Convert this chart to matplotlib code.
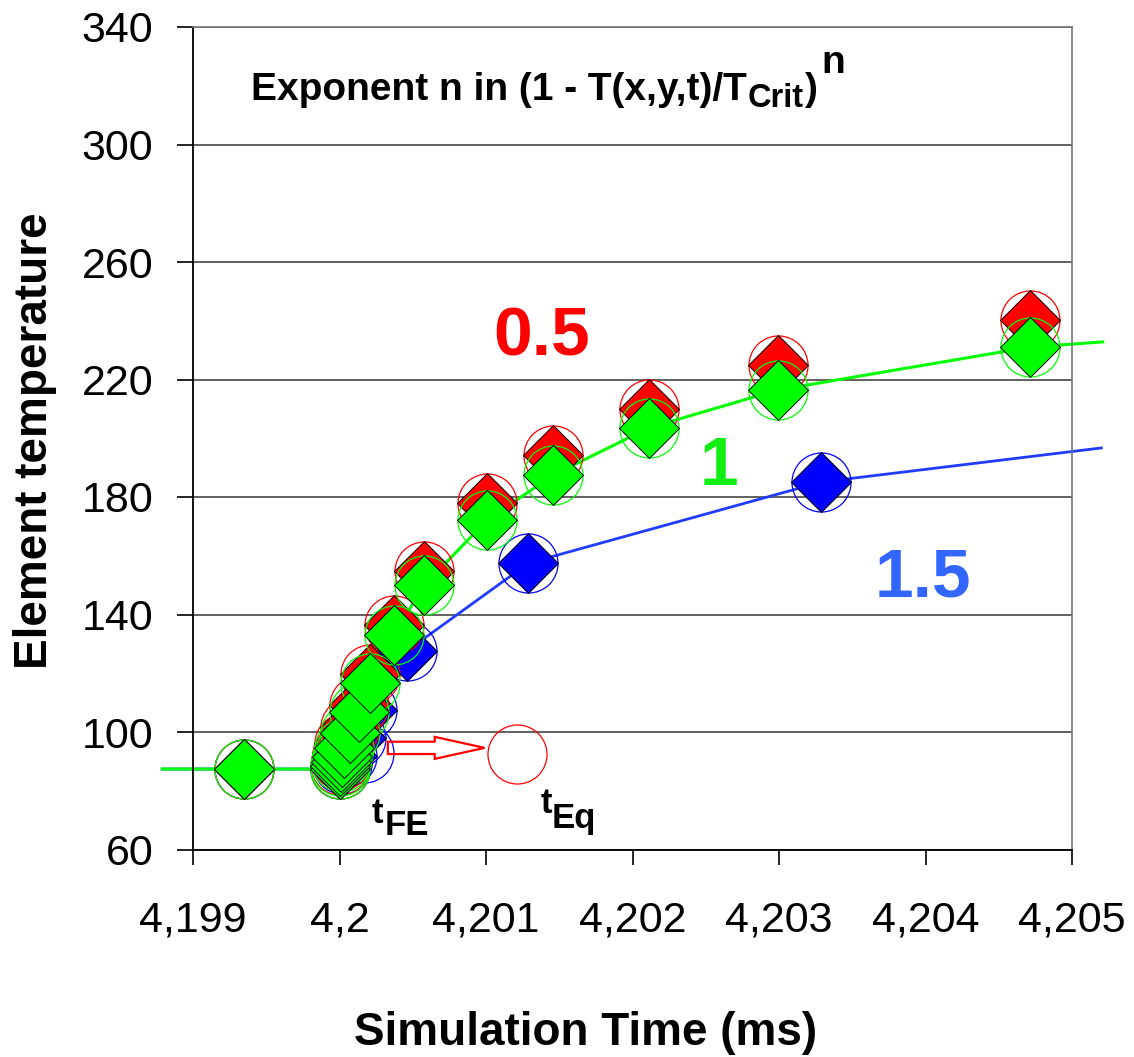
import matplotlib as mpl
import matplotlib.pyplot as plt
import matplotlib.patches as mpatches

# DATA -----------------------------------------------------------------------------------------------------------------
# time in ms, element temperature
green_x = [4.19935, 4.20000, 4.200003, 4.20001, 4.20002, 4.20003, 4.20007, 4.20013, 4.20021, 4.20037, 4.20058,
           4.20101, 4.20146, 4.20211, 4.20299, 4.20471]
green_y = [87.4, 87.4, 88.4, 89.8, 91.5, 94.6, 99.7, 106.8, 116.7, 133.0, 150.1,
           172.2, 187.5, 203.5, 216.4, 231.0]

red_x = green_x
red_y = [87.4, 87.4, 88.7, 90.4, 92.5, 96.1, 101.7, 109.3, 119.7, 136.4, 154.9,
         178.0, 194.3, 210.0, 224.8, 240.2]

blue_x = [4.19935, 4.20000, 4.20002, 4.20005, 4.20011, 4.20019, 4.20046, 4.20129, 4.20329]
blue_y = [87.4, 87.4, 89.0, 92.0, 98.0, 107.5, 127.6, 157.5, 185.1]

# extra open circles without a diamond
blue_circle_x = [4.20017]
blue_circle_y = [92.8]
eq_circle_x = [4.20121]
eq_circle_y = [92.5]

# line ends running past the plot frame
green_line_start = (4.19879, 87.4)
green_line_end = (4.20521, 232.8)
blue_line_start = (4.19879, 87.4)
blue_line_end = (4.20520, 196.7)

x_ticks = [4.199, 4.200, 4.201, 4.202, 4.203, 4.204, 4.205]
x_ticklabels = ['4,199', '4,2', '4,201', '4,202', '4,203', '4,204', '4,205']
y_ticks = [60, 100, 140, 180, 220, 260, 300, 340]

# STYLE ----------------------------------------------------------------------------------------------------------------
plt.rcParams['font.family'] = ['Liberation Sans', 'DejaVu Sans']

GREEN = '#00ff00'
RED = '#ff0000'
BLUE = '#0000ff'
W, H = 1134, 1057

fig = plt.figure(figsize=(W / 100, H / 100), dpi=100)
ax = fig.add_axes([193 / W, (H - 849.5) / H, (1072 - 193) / W, (849.5 - 27) / H])

# lines (drawn beyond the frame like the original)
gx = [green_line_start[0]] + green_x + [green_line_end[0]]
gy = [green_line_start[1]] + green_y + [green_line_end[1]]
bx = [blue_line_start[0]] + blue_x + [blue_line_end[0]]
by = [blue_line_start[1]] + blue_y + [blue_line_end[1]]
ax.plot(bx, by, color='#1f3cff', lw=2, zorder=2, clip_on=False)
ax.plot(gx, gy, color=GREEN, lw=2.2, zorder=2, clip_on=False)

ms_d = 30.5
ms_o = 42.5


def draw_series(xs, ys, color, z):
    ax.plot(xs, ys, 'o', ms=ms_o, mfc='none', mec=color, mew=0.9, zorder=z, clip_on=False)
    ax.plot(xs, ys, 'D', ms=ms_d, mfc=color, mec='black', mew=0.7, zorder=z + 0.1, clip_on=False)


draw_series(blue_x, blue_y, BLUE, 3)
ax.plot(blue_circle_x, blue_circle_y, 'o', ms=ms_o, mfc='none', mec=BLUE, mew=0.9, zorder=3)
draw_series(red_x, red_y, RED, 4)
draw_series(green_x, green_y, GREEN, 5)
ax.plot(eq_circle_x, eq_circle_y, 'o', ms=ms_o, mfc='none', mec=RED, mew=0.9, zorder=5)

# hollow arrow tFE -> tEq
arrow = mpatches.FancyArrow(4.20033, 94.6, 0.00066, 0, width=4.2, head_width=7.5, head_length=0.00034,
                            length_includes_head=True, fill=False, ec=RED, lw=1.6, zorder=6)
ax.add_patch(arrow)

# labels inside the plot
ax.text(4.20105, 228.3, '0.5', color=RED, fontsize=50, fontweight='bold', va='baseline', ha='left')
ax.text(4.20246, 184.1, '1', color='#11ee11', fontsize=50, fontweight='bold', va='baseline', ha='left')
ax.text(4.20365, 146.0, '1.5', color='#3366ff', fontsize=50, fontweight='bold', va='baseline', ha='left')

ax.text(4.20022, 69.0, 't', fontsize=25, fontweight='bold', va='baseline', ha='left', zorder=7)
ax.text(4.20031, 65.0, 'FE', fontsize=25, fontweight='bold', va='baseline', ha='left', zorder=7)
ax.text(4.20137, 72.4, 't', fontsize=25, fontweight='bold', va='baseline', ha='left', zorder=7)
ax.text(4.20145, 67.3, 'Eq', fontsize=25, fontweight='bold', va='baseline', ha='left', zorder=7)

# heading built from pieces: main text, subscript, bracket, exponent
renderer = fig.canvas.get_renderer()
pieces = [('Exponent n in (1 - T(x,y,t)/T', 28, 100, 0),
          ('Crit', 23.5, 107, 1),
          (')', 28, 100, 1),
          ('n', 28, 73, 4)]
x_px = 251
for txt, size, base, gap in pieces:
    x_px += gap
    t = fig.text(x_px / W, 1 - base / H, txt, fontsize=size, fontweight='bold', va='baseline', ha='left')
    x_px = t.get_window_extent(renderer).x1

# axes
ax.set_xlim(4.199, 4.205)
ax.set_ylim(60, 340)
ax.set_xticks(x_ticks)
ax.set_xticklabels(x_ticklabels)
ax.set_yticks(y_ticks)
ax.yaxis.grid(True, color='#555555', lw=1.3)
ax.set_axisbelow(True)
ax.tick_params(axis='y', direction='out', length=11.5, width=1.2, pad=17, labelsize=31)
ax.tick_params(axis='x', direction='out', length=11, width=1.2, pad=26, labelsize=31)
for side in ['left', 'bottom']:
    ax.spines[side].set_color('black')
    ax.spines[side].set_linewidth(1.3)
for side in ['top', 'right']:
    ax.spines[side].set_color('#777777')
    ax.spines[side].set_linewidth(1.2)

fig.text(586 / W, 1 - 1045 / H, 'Simulation Time (ms)', fontsize=33, fontweight='bold',
         ha='center', va='baseline')
fig.text(35 / W, 1 - 441 / H, 'Element temperature', fontsize=33, fontweight='bold',
         ha='center', va='center', rotation=90)

plt.savefig('out.png', dpi=100)
